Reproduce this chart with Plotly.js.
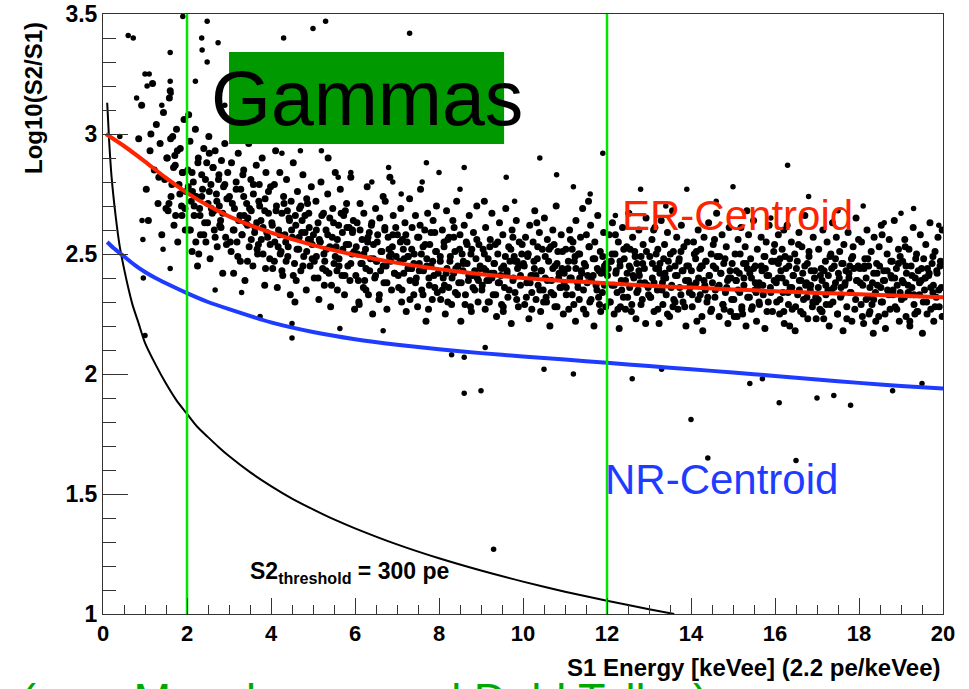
<!DOCTYPE html>
<html>
<head>
<meta charset="utf-8">
<script src="https://cdn.plot.ly/plotly-3.0.1.min.js"></script>
<style>
  html, body { margin: 0; padding: 0; background: #fff; }
  #chart { width: 969px; height: 689px; }
</style>
</head>
<body>
<div id="chart"></div>
<script>
// gamma events
const lowX = [0.85,0.92,1.03,1.08,1.12,1.18,1.22,1.27,1.31,1.36,1.4,1.44,1.47,1.52,1.55,1.58,1.62,1.66,1.69,1.72,1.75,1.78,1.81,1.84,1.87,1.9,1.93,1.96,1.98,1.14,1.33,1.5,1.71,1.88,1.6,
  2.02,2.05,2.07,2.1,2.12,2.15,2.17,2.2,2.22,2.25,2.27,2.3,2.32,2.35,2.37,2.4,2.42,2.45,2.47,2.5,2.52,2.55,2.57,2.6,2.62,2.65,2.67,2.7,2.72,2.75,2.77,2.8,2.82,2.85,2.87,2.9,2.92,2.95,2.97,2.04,2.28,2.53,2.78,2.13,2.64,
  3.01,3.05,3.06,3.1,3.11,3.13,3.17,3.19,3.22,3.23,3.27,3.28,3.31,3.35,3.36,3.38,3.42,3.44,3.47,3.48,3.52,3.53,3.57,3.58,3.61,3.65,3.66,3.68,3.72,3.73,3.77,3.79,3.81,3.85,3.86,3.88,3.92,3.94,3.97,3.99,3.2,3.45,3.7,3.33,3.87,
  4.02,4.04,4.08,4.09,4.13,4.15,4.18,4.21,4.22,4.26,4.28,4.3,4.33,4.36,4.37,4.41,4.43,4.46,4.48,4.51,4.53,4.56,4.59,4.6,4.63,4.66,4.68,4.71,4.73,4.76,4.78,4.81,4.84,4.85,4.89,4.91,4.93,4.96,4.98,4.11,4.39,4.57,4.74,4.24,4.87];
const lowY = [2.98,3.12,2.77,2.64,2.93,3.21,2.85,3.04,2.71,2.96,2.58,3.09,2.81,2.9,2.68,3.15,2.74,2.99,2.62,2.87,3.02,2.55,2.79,2.94,2.7,2.84,3.06,2.6,2.76,3.0,2.82,2.69,2.91,2.66,3.18,
  2.85,2.6,2.97,2.72,2.51,2.8,2.66,3.02,2.74,2.45,2.9,2.69,2.58,2.83,2.77,2.94,2.63,2.55,2.88,2.71,2.99,2.48,2.79,2.67,2.86,2.6,2.93,2.75,2.53,2.81,2.7,2.64,2.89,2.42,2.78,2.96,2.57,2.73,2.84,3.08,2.5,2.92,2.62,2.76,2.68,
  2.74,2.51,2.88,2.6,2.42,2.69,2.8,2.55,2.92,2.64,2.47,2.77,2.58,2.85,2.66,2.39,2.71,2.62,2.96,2.53,2.81,2.68,2.45,2.75,2.59,2.87,2.63,2.5,2.79,2.7,2.56,2.9,2.61,2.37,2.73,2.84,2.57,2.67,2.48,2.78,3.01,2.65,2.54,2.83,2.44,
  2.63,2.44,2.79,2.55,2.7,2.36,2.6,2.84,2.5,2.67,2.41,2.74,2.58,2.47,2.81,2.53,2.65,2.33,2.72,2.57,2.88,2.46,2.62,2.39,2.76,2.52,2.69,2.43,2.59,2.83,2.49,2.66,2.35,2.73,2.56,2.61,2.45,2.78,2.54,2.93,2.68,2.3,2.64,2.51,2.71];

const midX = [5.01,5.03,5.07,5.08,5.12,5.14,5.17,5.19,5.23,5.25,5.27,5.31,5.32,5.35,5.38,5.4,5.42,5.46,5.47,5.5,5.53,5.55,5.58,5.61,5.62,5.65,5.69,5.7,5.73,5.75,5.79,5.8,5.83,5.86,5.88,5.9,5.93,5.96,5.99,5.15,5.36,5.57,5.77,5.28,5.94,
  6.02,6.05,6.06,6.1,6.12,6.14,6.17,6.2,6.21,6.25,6.26,6.29,6.32,6.34,6.37,6.39,6.42,6.44,6.47,6.49,6.51,6.54,6.57,6.59,6.61,6.64,6.67,6.69,6.71,6.74,6.76,6.79,6.82,6.83,6.87,6.89,6.91,6.94,6.97,6.09,6.3,6.52,6.72,6.23,6.86,
  7.01,7.04,7.07,7.09,7.11,7.15,7.16,7.19,7.22,7.24,7.27,7.3,7.31,7.34,7.36,7.4,7.41,7.44,7.46,7.49,7.52,7.53,7.56,7.59,7.62,7.63,7.66,7.69,7.71,7.73,7.77,7.78,7.81,7.84,7.86,7.88,7.92,7.94,7.96,7.13,7.35,7.55,7.75,7.26,7.9,
  8.03,8.04,8.08,8.1,8.12,8.15,8.18,8.19,8.23,8.24,8.27,8.3,8.33,8.35,8.38,8.39,8.42,8.45,8.47,8.5,8.52,8.55,8.57,8.6,8.63,8.65,8.67,8.7,8.72,8.75,8.78,8.8,8.82,8.85,8.88,8.9,8.93,8.95,8.98,8.13,8.36,8.58,8.77,8.21,8.91,
  9.02,9.05,9.07,9.1,9.11,9.14,9.17,9.2,9.22,9.25,9.26,9.29,9.32,9.34,9.37,9.4,9.41,9.44,9.47,9.49,9.52,9.54,9.56,9.59,9.62,9.64,9.66,9.69,9.72,9.74,9.77,9.79,9.81,9.84,9.87,9.89,9.91,9.94,9.97,9.08,9.31,9.53,9.76,9.19,9.86,
  10.01,10.04,10.06,10.09,10.12,10.14,10.16,10.19,10.21,10.24,10.27,10.28,10.31,10.34,10.36,10.39,10.42,10.43,10.46,10.48,10.51,10.53,10.56,10.58,10.61,10.64,10.66,10.68,10.71,10.73,10.76,10.79,10.81,10.83,10.86,10.88,10.91,10.93,10.96,10.11,10.33,10.55,10.74,10.23,10.98,
  11.02,11.03,11.07,11.09,11.11,11.15,11.17,11.19,11.22,11.25,11.26,11.3,11.32,11.34,11.37,11.39,11.42,11.44,11.46,11.5,11.51,11.54,11.57,11.59,11.61,11.63,11.67,11.69,11.71,11.74,11.77,11.78,11.82,11.84,11.86,11.89,11.92,11.94,11.97,11.13,11.35,11.56,11.8,11.24,11.9];
const midY = [2.58,2.4,2.72,2.49,2.63,2.31,2.55,2.8,2.44,2.67,2.37,2.6,2.52,2.75,2.42,2.65,2.28,2.57,2.69,2.46,2.84,2.53,2.35,2.62,2.48,2.77,2.41,2.59,2.66,2.33,2.54,2.71,2.45,2.61,2.39,2.82,2.5,2.64,2.27,2.56,2.9,2.43,2.68,2.47,2.6,
  2.41,2.63,2.5,2.29,2.71,2.46,2.56,2.36,2.67,2.52,2.44,2.78,2.33,2.59,2.48,2.62,2.25,2.54,2.4,2.69,2.47,2.58,2.31,2.65,2.43,2.51,2.74,2.38,2.6,2.45,2.27,2.57,2.49,2.82,2.35,2.53,2.66,2.42,2.61,2.3,2.55,2.47,2.72,2.39,2.5,
  2.58,2.36,2.47,2.69,2.3,2.52,2.42,2.63,2.26,2.55,2.49,2.73,2.39,2.44,2.61,2.33,2.5,2.66,2.4,2.28,2.57,2.46,2.77,2.35,2.53,2.43,2.6,2.22,2.48,2.67,2.37,2.54,2.45,2.31,2.64,2.41,2.51,2.7,2.34,2.56,2.44,2.62,2.27,2.49,2.59,
  2.47,2.31,2.6,2.4,2.53,2.25,2.68,2.44,2.36,2.57,2.49,2.29,2.64,2.42,2.51,2.34,2.72,2.45,2.38,2.58,2.22,2.5,2.43,2.62,2.33,2.55,2.46,2.39,2.66,2.28,2.52,2.41,2.59,2.35,2.48,2.7,2.3,2.54,2.44,2.37,2.61,2.47,2.26,2.56,2.4,
  2.35,2.52,2.44,2.27,2.61,2.39,2.48,2.3,2.56,2.42,2.67,2.33,2.46,2.54,2.24,2.5,2.38,2.63,2.41,2.29,2.58,2.45,2.36,2.69,2.43,2.32,2.53,2.47,2.21,2.6,2.4,2.49,2.34,2.64,2.44,2.28,2.55,2.37,2.5,2.72,2.42,2.26,2.57,2.39,2.47,
  2.46,2.29,2.57,2.38,2.5,2.23,2.62,2.41,2.34,2.55,2.44,2.68,2.31,2.48,2.37,2.59,2.26,2.43,2.52,2.35,2.65,2.4,2.3,2.56,2.47,2.2,2.53,2.39,2.6,2.33,2.45,2.7,2.28,2.51,2.42,2.36,2.58,2.44,2.25,2.49,2.63,2.32,2.54,2.41,2.38,
  2.52,2.36,2.44,2.27,2.6,2.4,2.33,2.55,2.47,2.22,2.64,2.38,2.5,2.31,2.57,2.43,2.69,2.35,2.46,2.25,2.58,2.41,2.53,2.3,2.62,2.39,2.48,2.2,2.55,2.37,2.44,2.66,2.29,2.51,2.42,2.34,2.59,2.45,2.28,2.56,2.4,2.72,2.32,2.49,2.43];

const highX = [12.01,12.05,12.06,12.09,12.12,12.13,12.17,12.19,12.22,12.24,12.27,12.29,12.31,12.34,12.37,12.39,12.41,12.44,12.47,12.48,12.52,12.54,12.56,12.59,12.61,12.64,12.66,12.69,12.71,12.74,12.76,12.79,12.81,12.84,12.86,12.89,12.92,12.93,12.96,12.1,12.32,12.55,12.77,12.2,12.99,
  13.02,13.04,13.07,13.08,13.12,13.14,13.16,13.2,13.21,13.24,13.26,13.29,13.32,13.33,13.37,13.38,13.41,13.44,13.46,13.49,13.51,13.54,13.56,13.59,13.62,13.63,13.66,13.69,13.72,13.73,13.77,13.79,13.81,13.83,13.87,13.88,13.91,13.94,13.96,13.11,13.35,13.57,13.76,13.23,13.98,
  14.01,14.03,14.06,14.09,14.11,14.14,14.17,14.18,14.22,14.23,14.27,14.28,14.31,14.34,14.36,14.38,14.42,14.43,14.47,14.48,14.51,14.53,14.57,14.59,14.61,14.64,14.67,14.68,14.71,14.74,14.76,14.78,14.82,14.84,14.87,14.88,14.91,14.93,14.97,14.13,14.33,14.56,14.79,14.24,14.95,
  15.02,15.05,15.07,15.1,15.12,15.15,15.16,15.19,15.21,15.25,15.26,15.29,15.31,15.34,15.37,15.39,15.42,15.44,15.46,15.49,15.52,15.53,15.56,15.58,15.62,15.63,15.67,15.69,15.72,15.74,15.76,15.79,15.81,15.84,15.86,15.89,15.92,15.94,15.97,15.08,15.33,15.55,15.77,15.23,15.99,
  16.01,16.04,16.07,16.08,16.11,16.14,16.17,16.19,16.22,16.24,16.26,16.29,16.32,16.33,16.36,16.39,16.41,16.43,16.47,16.48,16.51,16.54,16.57,16.58,16.61,16.64,16.66,16.68,16.71,16.73,16.77,16.78,16.81,16.84,16.86,16.89,16.91,16.94,16.97,16.12,16.35,16.56,16.75,16.21,16.98,
  17.03,17.04,17.07,17.1,17.12,17.14,17.16,17.2,17.21,17.24,17.27,17.29,17.31,17.34,17.37,17.38,17.41,17.44,17.46,17.49,17.51,17.54,17.56,17.59,17.62,17.64,17.66,17.69,17.71,17.74,17.76,17.79,17.82,17.83,17.86,17.88,17.92,17.93,17.96,17.11,17.33,17.57,17.78,17.22,17.99,
  18.02,18.05,18.06,18.09,18.11,18.14,18.17,18.19,18.22,18.23,18.26,18.29,18.32,18.34,18.36,18.39,18.42,18.43,18.47,18.48,18.52,18.53,18.56,18.59,18.61,18.63,18.67,18.68,18.72,18.74,18.76,18.79,18.81,18.84,18.86,18.89,18.91,18.94,18.96,18.13,18.35,18.55,18.78,18.24,18.98,
  19.01,19.04,19.06,19.09,19.12,19.13,19.17,19.19,19.21,19.24,19.26,19.29,19.31,19.34,19.37,19.38,19.41,19.44,19.46,19.48,19.51,19.54,19.56,19.59,19.61,19.63,19.66,19.69,19.71,19.74,19.77,19.78,19.81,19.84,19.86,19.88,19.91,19.93,19.96,19.1,19.33,19.57,19.76,19.22,19.98];
const highY = [2.41,2.58,2.3,2.47,2.37,2.63,2.25,2.5,2.43,2.34,2.55,2.19,2.45,2.39,2.61,2.32,2.48,2.27,2.53,2.42,2.67,2.36,2.44,2.29,2.57,2.4,2.51,2.23,2.46,2.35,2.6,2.38,2.49,2.31,2.54,2.44,2.21,2.65,2.37,2.47,2.28,2.52,2.41,2.58,2.33,
  2.49,2.32,2.56,2.4,2.26,2.61,2.44,2.35,2.52,2.21,2.46,2.64,2.38,2.29,2.54,2.42,2.33,2.59,2.47,2.24,2.5,2.37,2.68,2.31,2.45,2.41,2.57,2.27,2.48,2.36,2.62,2.43,2.3,2.53,2.39,2.2,2.55,2.45,2.34,2.6,2.4,2.28,2.51,2.44,2.36,
  2.43,2.28,2.55,2.37,2.48,2.22,2.6,2.4,2.33,2.52,2.45,2.18,2.57,2.35,2.47,2.3,2.63,2.41,2.26,2.5,2.38,2.54,2.32,2.44,2.67,2.36,2.24,2.49,2.42,2.58,2.29,2.46,2.34,2.53,2.39,2.21,2.61,2.43,2.31,2.51,2.37,2.56,2.27,2.45,2.4,
  2.31,2.5,2.39,2.24,2.56,2.42,2.34,2.61,2.27,2.46,2.37,2.53,2.2,2.44,2.58,2.32,2.48,2.4,2.28,2.64,2.35,2.45,2.22,2.52,2.38,2.29,2.57,2.43,2.33,2.49,2.19,2.55,2.41,2.3,2.62,2.36,2.47,2.26,2.51,2.39,2.68,2.34,2.44,2.25,2.54,
  2.47,2.3,2.4,2.58,2.25,2.43,2.52,2.34,2.21,2.49,2.38,2.62,2.29,2.45,2.36,2.55,2.27,2.41,2.5,2.18,2.44,2.33,2.59,2.39,2.26,2.53,2.42,2.31,2.66,2.37,2.46,2.23,2.51,2.35,2.43,2.28,2.57,2.4,2.32,2.48,2.2,2.54,2.38,2.6,2.3,
  2.36,2.52,2.27,2.44,2.39,2.6,2.23,2.47,2.33,2.55,2.41,2.2,2.49,2.35,2.63,2.3,2.45,2.38,2.57,2.25,2.42,2.51,2.32,2.46,2.18,2.54,2.37,2.43,2.28,2.59,2.4,2.34,2.48,2.22,2.53,2.44,2.31,2.65,2.39,2.26,2.5,2.36,2.45,2.29,2.56,
  2.44,2.29,2.55,2.37,2.21,2.48,2.4,2.6,2.32,2.45,2.26,2.51,2.38,2.17,2.57,2.34,2.46,2.42,2.24,2.53,2.36,2.62,2.3,2.43,2.39,2.19,2.5,2.35,2.56,2.27,2.41,2.47,2.33,2.64,2.28,2.44,2.37,2.52,2.22,2.45,2.31,2.58,2.4,2.25,2.49,
  2.31,2.47,2.38,2.56,2.24,2.42,2.34,2.52,2.2,2.45,2.36,2.61,2.29,2.4,2.5,2.26,2.43,2.33,2.58,2.39,2.17,2.48,2.35,2.54,2.3,2.44,2.41,2.63,2.27,2.46,2.37,2.22,2.51,2.32,2.42,2.57,2.28,2.45,2.36,2.53,2.25,2.4,2.49,2.33,2.6];

// the crowded middle of the band
const coreX = [1.53,1.57,1.61,1.64,1.68,1.73,1.77,1.83,1.89,1.95,
  2.03,2.08,2.12,2.17,2.21,2.26,2.31,2.35,2.4,2.44,2.49,2.53,2.58,2.62,2.67,2.71,2.76,2.81,2.85,2.9,2.94,2.98,
  3.03,3.08,3.12,3.17,3.21,3.26,3.31,3.35,3.4,3.44,3.49,3.53,3.58,3.62,3.67,3.71,3.76,3.81,3.85,3.9,3.94,3.98,
  4.03,4.08,4.12,4.17,4.21,4.26,4.31,4.35,4.4,4.44,4.49,4.53,4.58,4.62,4.67,4.71,4.76,4.81,4.85,4.9,4.94,4.98,
  5.03,5.08,5.12,5.17,5.21,5.26,5.31,5.35,5.4,5.44,5.49,5.53,5.58,5.62,5.67,5.71,5.76,5.81,5.85,5.9,5.94,5.98,
  6.03,6.08,6.12,6.17,6.21,6.26,6.31,6.35,6.4,6.44,6.49,6.53,6.58,6.62,6.67,6.71,6.76,6.81,6.85,6.9,6.94,6.98,
  7.03,7.08,7.12,7.17,7.21,7.26,7.31,7.35,7.4,7.44,7.49,7.53,7.58,7.62,7.67,7.71,7.76,7.81,7.85,7.9,7.94,7.98,
  8.03,8.08,8.12,8.17,8.21,8.26,8.31,8.35,8.4,8.44,8.49,8.53,8.58,8.62,8.67,8.71,8.76,8.81,8.85,8.9,8.94,8.98,
  9.03,9.08,9.12,9.17,9.21,9.26,9.31,9.35,9.4,9.44,9.49,9.53,9.58,9.62,9.67,9.71,9.76,9.81,9.85,9.9,9.94,9.98,
  10.03,10.08,10.12,10.17,10.21,10.26,10.31,10.35,10.4,10.44,10.49,10.53,10.58,10.62,10.67,10.71,10.76,10.81,10.85,10.9,10.94,10.98,
  11.03,11.08,11.12,11.17,11.21,11.26,11.31,11.35,11.4,11.44,11.49,11.53,11.58,11.62,11.67,11.71,11.76,11.81,11.85,11.9,11.94,11.98,
  12.03,12.08,12.12,12.17,12.21,12.26,12.31,12.35,12.4,12.44,12.49,12.53,12.58,12.62,12.67,12.71,12.76,12.81,12.85,12.9,12.94,12.98,
  13.03,13.08,13.12,13.17,13.21,13.26,13.31,13.35,13.4,13.44,13.49,13.53,13.58,13.62,13.67,13.71,13.76,13.81,13.85,13.9,13.94,13.98,
  14.03,14.08,14.12,14.17,14.21,14.26,14.31,14.35,14.4,14.44,14.49,14.53,14.58,14.62,14.67,14.71,14.76,14.81,14.85,14.9,14.94,14.98,
  15.03,15.08,15.12,15.17,15.21,15.26,15.31,15.35,15.4,15.44,15.49,15.53,15.58,15.62,15.67,15.71,15.76,15.81,15.85,15.9,15.94,15.98,
  16.03,16.08,16.12,16.17,16.21,16.26,16.31,16.35,16.4,16.44,16.49,16.53,16.58,16.62,16.67,16.71,16.76,16.81,16.85,16.9,16.94,16.98,
  17.03,17.08,17.12,17.17,17.21,17.26,17.31,17.35,17.4,17.44,17.49,17.53,17.58,17.62,17.67,17.71,17.76,17.81,17.85,17.9,17.94,17.98,
  18.03,18.08,18.12,18.17,18.21,18.26,18.31,18.35,18.4,18.44,18.49,18.53,18.58,18.62,18.67,18.71,18.76,18.81,18.85,18.9,18.94,18.98,
  19.03,19.08,19.12,19.17,19.21,19.26,19.31,19.35,19.4,19.44,19.49,19.53,19.58,19.62,19.67,19.71,19.76,19.81,19.85,19.9,19.94,19.98];
const coreY = [2.9,2.71,2.98,2.79,2.86,2.66,2.93,2.75,2.84,2.69,
  2.78,2.6,2.84,2.7,2.55,2.88,2.66,2.74,2.58,2.81,2.63,2.76,2.69,2.86,2.57,2.72,2.83,2.61,2.67,2.79,2.54,2.73,
  2.55,2.71,2.6,2.77,2.49,2.66,2.58,2.74,2.63,2.47,2.69,2.56,2.79,2.61,2.52,2.72,2.64,2.5,2.68,2.59,2.76,2.54,
  2.62,2.47,2.68,2.53,2.58,2.43,2.71,2.55,2.49,2.64,2.6,2.41,2.66,2.52,2.57,2.7,2.45,2.59,2.51,2.67,2.56,2.48,
  2.47,2.6,2.4,2.55,2.66,2.5,2.43,2.58,2.53,2.37,2.63,2.49,2.56,2.45,2.67,2.52,2.41,2.61,2.54,2.46,2.59,2.51,
  2.53,2.39,2.6,2.46,2.5,2.35,2.57,2.43,2.63,2.48,2.41,2.55,2.33,2.51,2.45,2.61,2.38,2.52,2.47,2.58,2.42,2.49,
  2.41,2.55,2.35,2.48,2.58,2.44,2.31,2.52,2.46,2.38,2.57,2.43,2.5,2.33,2.54,2.45,2.4,2.59,2.47,2.36,2.51,2.42,
  2.49,2.35,2.55,2.42,2.3,2.47,2.4,2.57,2.44,2.33,2.52,2.38,2.46,2.29,2.54,2.41,2.5,2.36,2.43,2.56,2.39,2.45,
  2.37,2.5,2.43,2.3,2.53,2.4,2.46,2.33,2.55,2.38,2.44,2.28,2.49,2.42,2.35,2.52,2.39,2.47,2.31,2.45,2.41,2.54,
  2.45,2.32,2.5,2.38,2.27,2.47,2.41,2.53,2.35,2.43,2.3,2.49,2.39,2.52,2.34,2.44,2.28,2.46,2.4,2.36,2.51,2.42,
  2.33,2.47,2.4,2.52,2.29,2.44,2.36,2.5,2.42,2.27,2.45,2.38,2.53,2.31,2.41,2.48,2.35,2.43,2.26,2.49,2.37,2.46,
  2.44,2.3,2.5,2.37,2.42,2.27,2.47,2.35,2.52,2.39,2.32,2.45,2.26,2.41,2.49,2.34,2.43,2.29,2.46,2.38,2.51,2.36,
  2.32,2.46,2.38,2.5,2.27,2.42,2.35,2.48,2.4,2.25,2.44,2.36,2.51,2.3,2.41,2.47,2.33,2.43,2.28,2.45,2.39,2.37,
  2.33,2.5,2.38,2.31,2.44,2.24,2.39,2.47,2.32,2.41,2.27,2.45,2.35,2.49,2.37,2.42,2.29,2.48,2.36,2.4,2.26,2.46,
  2.24,2.43,2.35,2.5,2.28,2.4,2.46,2.32,2.42,2.27,2.44,2.38,2.36,2.3,2.45,2.37,2.49,2.26,2.41,2.34,2.47,2.39,
  2.38,2.46,2.31,2.4,2.26,2.44,2.34,2.48,2.36,2.41,2.28,2.47,2.35,2.39,2.25,2.45,2.32,2.49,2.37,2.3,2.43,2.23,
  2.31,2.41,2.26,2.43,2.37,2.35,2.29,2.44,2.36,2.48,2.25,2.4,2.33,2.46,2.38,2.23,2.42,2.34,2.49,2.27,2.39,2.45,
  2.38,2.24,2.44,2.31,2.48,2.36,2.29,2.42,2.22,2.37,2.45,2.3,2.39,2.25,2.43,2.33,2.47,2.35,2.4,2.27,2.46,2.34,
  2.39,2.32,2.45,2.37,2.22,2.41,2.33,2.48,2.26,2.38,2.44,2.3,2.4,2.25,2.42,2.36,2.34,2.28,2.43,2.35,2.47,2.24];

// isolated events away from the band
const sparseX = [0.6,0.72,1.9,2.48,2.35,2.36,2.74,1.6,2.48,1.0,1.1,1.05,1.6,2.2,1.62,0.8,1.4,0.4,4.3,5.0,
  5.3,7.3,4.26,4.7,5.2,6.8,7.7,8.0,8.6,9.6,9.8,8.5,7.6,7.1,6.9,6.4,5.9,5.6,12.8,13.9,
  15.0,16.8,18.1,19.3,19.0,12.2,18.6,19.9,15.9,11.6,16.3,11.9,3.3,4.0,6.7,8.2,9.3,10.4,10.8,11.2,
  13.4,14.6,17.5,3.6,2.9,3.1,8.6,14.0,9.3,16.1,17.0,17.4,17.8,15.4,15.7,14.4,16.5,4.5,1.0,9.0,
  2.67,3.3,3.74,4.5,8.3,8.6,9.1,6.67,5.64,0.96,1.6,1.43,0.93,0.95,11.2,12.6,13.3,18.8,19.5,10.5];
const sparseY = [3.41,3.4,3.49,3.47,3.4,3.35,3.38,3.34,3.3,3.25,3.25,3.2,3.22,3.22,3.17,3.15,3.12,2.99,3.4,3.44,
  3.47,3.42,2.92,2.93,2.93,2.86,2.88,2.84,2.86,2.82,2.72,2.77,2.8,2.75,2.8,2.8,2.84,2.82,2.77,2.77,
  2.78,2.74,2.7,2.69,2.67,2.66,2.63,2.62,2.65,2.75,2.87,2.92,3.05,3.1,3.06,2.98,3.0,2.9,2.83,2.78,
  2.7,2.72,2.68,3.0,3.12,3.18,1.92,1.81,1.27,1.88,1.9,1.91,1.87,1.96,1.98,1.65,1.64,2.15,2.16,1.93,
  2.35,2.34,2.24,2.21,2.08,2.07,2.11,2.18,2.19,2.4,2.44,2.52,2.64,2.56,2.0,1.98,2.02,1.93,1.96,2.02];

// centroid curves
const erX = [0.07,0.5,1,1.5,2,2.5,3,3.5,4,5,6,7,8,9,10,11,12,13,14,15,16,17,18,19,20];
const erY = [3.0,2.95,2.885,2.817,2.755,2.702,2.657,2.62,2.589,2.537,2.496,2.463,2.437,2.416,2.4,2.388,2.378,2.368,2.36,2.352,2.345,2.338,2.332,2.326,2.32];
const nrX = [0.1,0.25,0.5,0.75,1,1.25,1.5,2,2.5,3,4,5,6,7,8,9,10,11,12,13,14,15,16,17,18,19,20];
const nrY = [2.55,2.525,2.49,2.455,2.425,2.4,2.378,2.337,2.3,2.27,2.215,2.175,2.145,2.122,2.103,2.087,2.073,2.06,2.047,2.033,2.02,2.006,1.992,1.977,1.963,1.95,1.94];

// S2 threshold curve
const thrX = [0.1,0.15,0.2,0.3,0.4,0.5,0.6,0.7,0.85,1,1.25,1.5,1.75,2,2.25,2.5,2.75,3,3.5,4,4.5,5,5.5,6,7,8,9,10,11,12,13,13.6];
const thrY = [3.13,2.96,2.83,2.66,2.53,2.44,2.36,2.29,2.21,2.13,2.04,1.96,1.89,1.834,1.779,1.737,1.696,1.658,1.591,1.533,1.481,1.436,1.394,1.357,1.29,1.232,1.181,1.135,1.093,1.055,1.02,1.0];

// energy window cuts
const cutX = [2, 12];
const cutY = [1, 3.5];

const bandX = lowX.concat(midX, highX, coreX);
const bandY = lowY.concat(midY, highY, coreY);

const traces = [
  { x: bandX, y: bandY, type: 'scatter', mode: 'markers',
    marker: { color: '#000', size: 7, symbol: 'circle', line: { width: 0 } }, hoverinfo: 'skip' },
  { x: sparseX, y: sparseY, type: 'scatter', mode: 'markers',
    marker: { color: '#000', size: 5.5, symbol: 'circle', line: { width: 0 } }, hoverinfo: 'skip' },
  { x: thrX, y: thrY, type: 'scatter', mode: 'lines', line: { color: '#000', width: 2, shape: 'spline', smoothing: 0.8 } },
  { x: nrX, y: nrY, type: 'scatter', mode: 'lines', line: { color: '#1e3cff', width: 4, shape: 'spline', smoothing: 0.6 } },
  { x: erX, y: erY, type: 'scatter', mode: 'lines', line: { color: '#ff2400', width: 4, shape: 'spline', smoothing: 0.5 } }
];
cutX.forEach(c => {
  traces.push({ x: [c, c], y: cutY, type: 'scatter', mode: 'lines', line: { color: '#00e600', width: 2.5 } });
});

const font = 'Liberation Sans, Arial, Helvetica, sans-serif';

const layout = {
  width: 969, height: 689,
  margin: { l: 103, r: 26, t: 14, b: 75 },
  paper_bgcolor: '#fff', plot_bgcolor: '#fff',
  showlegend: false,
  font: { family: font, color: '#000' },
  xaxis: {
    range: [0, 20], tick0: 0, dtick: 2, ticks: 'inside', ticklen: 16, tickwidth: 1, tickcolor: '#333',
    minor: { dtick: 0.5, ticks: 'inside', ticklen: 9, tickwidth: 1, tickcolor: '#333' },
    showgrid: false, zeroline: false, showline: true, mirror: true, linecolor: '#333', linewidth: 1,
    tickfont: { family: font, size: 22, weight: 'bold' }
  },
  yaxis: {
    range: [1, 3.5], tick0: 1, dtick: 0.5, ticks: 'inside', ticklen: 25, tickwidth: 1, tickcolor: '#333',
    minor: { dtick: 0.1, ticks: 'inside', ticklen: 13, tickwidth: 1, tickcolor: '#333' },
    showgrid: false, zeroline: false, showline: true, mirror: true, linecolor: '#333', linewidth: 1,
    tickfont: { family: font, size: 23, weight: 'bold' }
  },
  shapes: [
    { type: 'rect', xref: 'x', yref: 'y', x0: 3.0, x1: 9.55, y0: 2.958, y1: 3.342,
      fillcolor: '#009900', line: { width: 0 }, layer: 'above' }
  ],
  annotations: [
    { xref: 'x', yref: 'y', x: 6.29, y: 3.15, text: 'Gammas', showarrow: false,
      font: { family: font, size: 77, color: '#000' }, xanchor: 'center', yanchor: 'middle' },
    { xref: 'x', yref: 'y', x: 12.3, y: 2.66, text: 'ER-Centroid', showarrow: false,
      font: { family: font, size: 42, color: '#ff2400' }, xanchor: 'left', yanchor: 'middle' },
    { xref: 'x', yref: 'y', x: 11.9, y: 1.56, text: 'NR-Centroid', showarrow: false,
      font: { family: font, size: 42, color: '#1e3cff' }, xanchor: 'left', yanchor: 'middle' },
    { xref: 'x', yref: 'y', x: 3.45, y: 1.175, text: '<b>S2<sub>threshold</sub> = 300 pe</b>', showarrow: false,
      font: { family: font, size: 23, color: '#000' }, xanchor: 'left', yanchor: 'middle' },
    { xref: 'paper', yref: 'paper', x: 0, y: 0.86, xshift: -70, textangle: -90,
      text: '<b>Log10(S2/S1)</b>', showarrow: false,
      font: { family: font, size: 24, color: '#000' }, xanchor: 'center', yanchor: 'middle' },
    { xref: 'paper', yref: 'paper', x: 1, y: 0, yshift: -53,
      text: '<b>S1 Energy [keVee] (2.2 pe/keVee)</b>', showarrow: false,
      font: { family: font, size: 24, color: '#000' }, xanchor: 'right', yanchor: 'middle' },
    { xref: 'paper', yref: 'paper', x: 0, y: 0, xshift: -84, yshift: -58,
      text: '( see Manalaysay and Dahl Talks )', showarrow: false,
      font: { family: font, size: 45, color: '#00a800' }, xanchor: 'left', yanchor: 'top' }
  ]
};

Plotly.newPlot('chart', traces, layout, { displayModeBar: false, staticPlot: true });
</script>
</body>
</html>
